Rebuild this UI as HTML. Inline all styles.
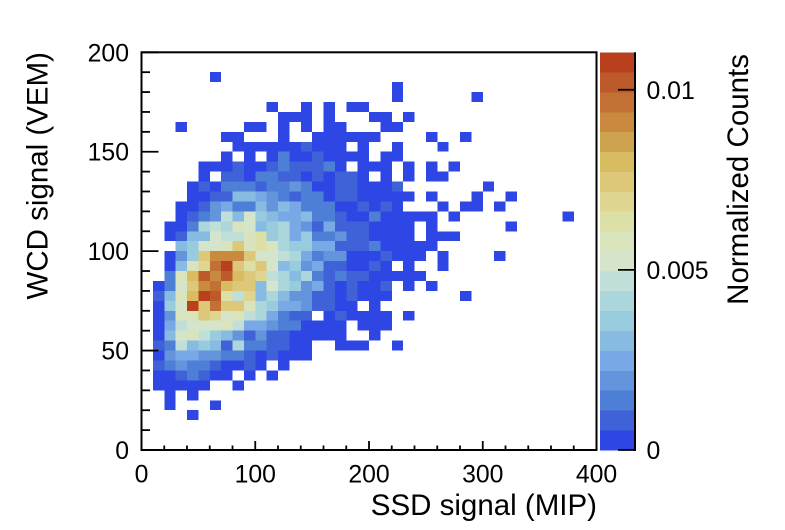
<!DOCTYPE html>
<html lang="en">
<head>
<meta charset="utf-8">
<title>WCD signal vs SSD signal</title>
<style>
html,body{margin:0;padding:0;background:#fff;width:785px;height:530px;overflow:hidden}
svg{display:block}
text{font-family:"Liberation Sans",Arial,sans-serif;fill:#000}
.tick{font-size:24.8px}
.title{font-size:29.5px}
</style>
</head>
<body>
<svg id="chart" width="785" height="530" viewBox="0 0 785 530" xmlns="http://www.w3.org/2000/svg">
<defs><filter id="soft" x="0" y="0" width="100%" height="100%"><feGaussianBlur stdDeviation="0.35"/></filter></defs>
</svg>
<script>
const xTicks = [0, 100, 200, 300, 400];
const yTicks = [0, 50, 100, 150, 200];
const zTicks = [0, 0.005, 0.01];
const zTickLabels = ["0", "0.005", "0.01"];
const xMinorStep = 20;
const yMinorStep = 10;
const xMax = 400;
const yMax = 200;
const zMax = 0.01104;
const xBinWidth = 10;
const yBinHeight = 5;
const topRowBin = 37;
const palette = ["#2d46e4","#3f62d8","#4e7fd6","#6494dc","#78a9e6","#88bbe2","#99cbdf","#aad6dc","#c0dfd9","#d4e5cb","#d9e4bc","#dcdfa6","#ded690","#dcc878","#d8bc62","#cea350","#c98a40","#c27034","#bd5a2c","#b8401f"];
/* Colour-level of every bin, listed from the top row (WCD 185-190) down; each row starts at SSD 0. */
const binLevels = [
[0,0,0,0,0,0,1],
[0,0,0,0,0,0,0,0,0,0,0,0,0,0,0,0,0,0,0,0,0,0,1],
[0,0,0,0,0,0,0,0,0,0,0,0,0,0,0,0,0,0,0,0,0,0,1,0,0,0,0,0,0,1],
[0,0,0,0,0,0,0,0,0,0,0,1,0,0,1,0,1,0,1,1],
[0,0,0,0,0,0,0,0,0,0,0,0,1,1,1,0,1,0,0,0,1,1,0,1],
[0,0,0,1,0,0,0,0,0,1,1,0,1,0,1,0,1,1,0,0,0,1,1],
[0,0,0,0,0,0,0,1,1,0,0,0,1,0,0,1,1,1,1,1,1,0,0,0,0,1,0,0,1],
[0,0,0,0,0,0,0,0,1,1,1,1,1,1,2,1,1,1,0,1,0,0,1,0,0,0,1],
[0,0,0,0,0,0,0,1,0,1,0,1,3,1,1,2,1,1,1,1,0,1,1],
[0,0,0,0,0,1,1,1,2,1,1,2,3,2,2,2,3,1,0,1,1,1,0,1,0,1,0,1],
[0,0,0,0,0,1,0,2,2,1,3,3,2,2,1,2,1,2,2,1,0,1,0,1,0,1,1],
[0,0,0,0,1,2,1,3,3,3,2,3,3,4,3,1,1,2,2,1,1,1,2,0,0,0,0,0,0,0,1],
[0,0,0,0,1,1,2,2,6,6,5,4,3,2,3,3,1,2,2,1,1,1,1,1,0,1,0,0,0,1,0,0,1],
[0,0,0,1,1,2,4,5,3,3,6,4,6,5,3,3,3,1,1,2,1,2,1,0,0,0,1,0,1,1,0,1],
[0,0,0,1,2,3,4,9,6,10,7,6,5,5,6,3,3,2,1,1,3,1,1,1,1,1,0,1,0,0,0,0,0,0,0,0,0,1],
[0,0,1,1,3,8,9,8,11,10,6,7,8,5,4,2,5,2,2,2,1,1,1,1,0,1,0,0,0,0,0,0,1],
[0,0,1,2,6,6,10,9,9,11,12,7,8,5,7,3,3,4,2,2,1,1,1,1,0,1,1,1],
[0,0,0,6,7,10,10,11,14,11,12,11,8,7,7,5,5,2,2,2,3,1,1,1,1,1],
[0,0,1,4,7,14,17,17,17,14,10,10,9,8,5,3,4,4,1,1,1,2,1,1,1,0,1,0,0,0,0,1],
[0,0,1,6,11,13,18,20,14,12,14,10,6,7,4,5,2,2,1,1,2,1,0,1,0,0,1],
[0,0,3,11,15,19,17,19,15,14,13,9,8,6,8,3,2,3,2,2,1,1,1,1,1],
[0,1,3,10,14,17,18,15,14,14,6,10,8,7,4,5,2,1,2,1,1,2,0,1,0,1],
[0,2,6,11,15,20,19,12,9,13,6,8,6,4,4,2,2,1,2,1,1,1,0,0,0,0,0,0,1],
[0,1,7,10,20,14,18,14,14,11,8,7,5,5,4,2,2,1,1,0,1],
[0,1,4,11,11,14,13,10,11,9,8,5,3,2,2,0,1,2,1,1,1,1,0,1],
[0,1,5,9,10,10,10,11,9,5,5,4,3,3,1,1,1,1,0,1,1,1],
[0,1,6,10,11,9,7,6,4,2,4,2,2,1,1,1,1,1,0,0,1],
[0,2,3,9,6,7,6,2,8,3,3,2,2,1,1,0,0,1,1,1,0,0,1],
[0,1,4,5,5,4,4,3,3,2,1,2,1,1,1],
[0,2,3,4,3,3,2,1,1,2,1,0,1],
[0,1,1,2,3,2,1,1,0,1,0,1],
[0,1,1,1,1,1,0,0,1],
[0,0,1,0,1],
[0,0,1,0,0,0,1],
[0,0,0,0,1]
];

const NS = "http://www.w3.org/2000/svg";
const svg = document.getElementById("chart");
const plot = {left: 141.5, right: 596.5, top: 52.3, bottom: 450};
const bar = {left: 600, right: 635};
const xScale = v => plot.left + (v / xMax) * (plot.right - plot.left);
const yScale = v => plot.bottom - (v / yMax) * (plot.bottom - plot.top);
const zScale = v => plot.bottom - (v / zMax) * (plot.bottom - plot.top);

function add(tag, attrs, parent) {
  const el = document.createElementNS(NS, tag);
  for (const k in attrs) el.setAttribute(k, attrs[k]);
  (parent || svg).appendChild(el);
  return el;
}

const cellsGroup = add("g", {"shape-rendering": "crispEdges", filter: "url(#soft)"});


binLevels.forEach((row, i) => {
  const bin = topRowBin - i;
  row.forEach((level, c) => {
    if (!level) return;
    const cell = add("rect", {
      x: xScale(c * xBinWidth),
      y: yScale((bin + 1) * yBinHeight),
      width: xScale((c + 1) * xBinWidth) - xScale(c * xBinWidth),
      height: yScale(bin * yBinHeight) - yScale((bin + 1) * yBinHeight),
      fill: palette[Math.min(level, palette.length) - 1]
    }, cellsGroup);
    
    
  });
});

const frame = add("rect", {x: plot.left, y: plot.top, width: plot.right - plot.left, height: plot.bottom - plot.top, fill: "none", stroke: "#000", "stroke-width": 2});



const axisLines = add("g", {stroke: "#000", "stroke-width": 1.8});


for (let v = 0; v <= xMax; v += xMinorStep) {
  const major = v % 100 === 0;
  const t = add("line", {x1: xScale(v), x2: xScale(v), y1: plot.bottom, y2: plot.bottom - (major ? 9 : 4.5)}, axisLines);
  
  
}
for (let v = 0; v <= yMax; v += yMinorStep) {
  const major = v % 50 === 0;
  const t = add("line", {x1: plot.left, x2: plot.left + (major ? 17 : 8.5), y1: yScale(v), y2: yScale(v)}, axisLines);
  
  
}

xTicks.forEach(v => {
  const t = add("text", {x: xScale(v), y: 482.5, "text-anchor": "middle", class: "tick"});
  t.textContent = v;
  
  
});
yTicks.forEach(v => {
  const t = add("text", {x: 129, y: yScale(v) + 9, "text-anchor": "end", class: "tick"});
  t.textContent = v;
  
  
});

const barGroup = add("g", {"shape-rendering": "crispEdges"});


palette.forEach((color, i) => {
  const y0 = plot.bottom - (i + 1) * (plot.bottom - plot.top) / palette.length;
  const swatch = add("rect", {x: bar.left, y: y0, width: bar.right - bar.left, height: (plot.bottom - plot.top) / palette.length + 0.3, fill: color}, barGroup);
  
  
});
const barRight = add("line", {x1: bar.right, x2: bar.right, y1: plot.top, y2: plot.bottom + 1, stroke: "#000", "stroke-width": 2});


zTicks.forEach((v, i) => {
  const t = add("line", {x1: bar.right - 17, x2: bar.right, y1: zScale(v), y2: zScale(v), stroke: "#000", "stroke-width": 1.8});
  
  
  const l = add("text", {x: 646.5, y: zScale(v) + 9, class: "tick"});
  l.textContent = zTickLabels[i];
  
  
});

const xTitle = add("text", {x: 597, y: 515, "text-anchor": "end", class: "title"});
xTitle.textContent = "SSD signal (MIP)";



const yTitle = add("text", {transform: "translate(47.5,52) rotate(-90)", "text-anchor": "end", class: "title"});
yTitle.textContent = "WCD signal (VEM)";



const zTitle = add("text", {transform: "translate(748,54) rotate(-90)", "text-anchor": "end", class: "title"});
zTitle.textContent = "Normalized Counts";


</script>
</body>
</html>
